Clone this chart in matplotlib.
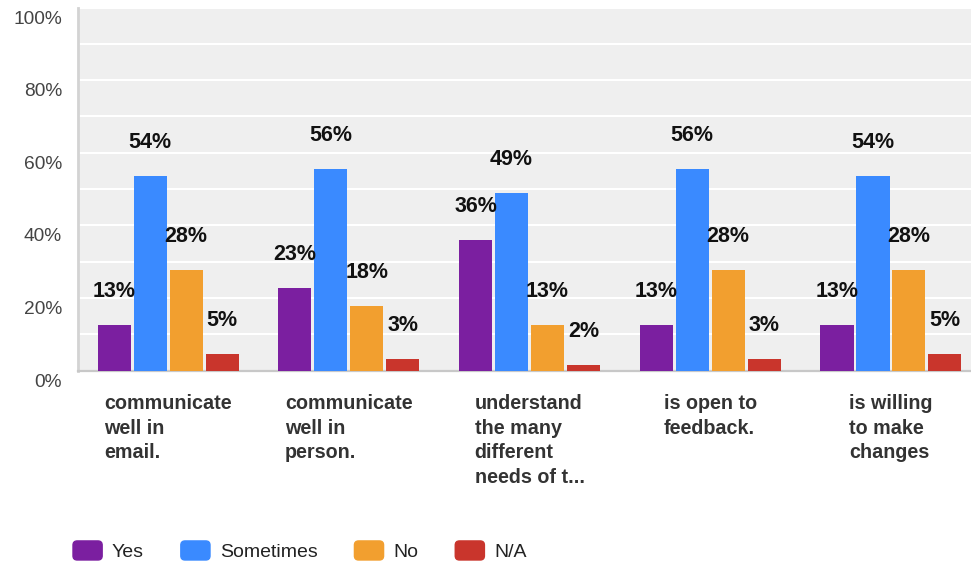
import matplotlib
matplotlib.use("Agg")
import matplotlib.pyplot as plt
import numpy as np
from matplotlib.patches import Patch, FancyBboxPatch
from matplotlib.legend_handler import HandlerPatch
from matplotlib.transforms import ScaledTranslation

plt.rcParams['font.family'] = ['Liberation Sans', 'DejaVu Sans']

categories = ["communicate\nwell in\nemail.",
              "communicate\nwell in\nperson.",
              "understand\nthe many\ndifferent\nneeds of t...",
              "is open to\nfeedback.",
              "is willing\nto make\nchanges"]
series_names = ["Yes", "Sometimes", "No", "N/A"]
yes_vals = [12.7, 22.9, 35.9, 12.7, 12.6]
sometimes_vals = [53.7, 55.6, 48.8, 55.6, 53.6]
no_vals = [27.8, 17.9, 12.7, 27.8, 27.7]
na_vals = [4.7, 3.3, 1.7, 3.3, 4.6]
series_values = [yes_vals, sometimes_vals, no_vals, na_vals]
colors = ['#7b1fa0', '#3a8aff', '#f29f2f', '#c9352c']
yticks_major = [0, 20, 40, 60, 80, 100]
ytick_labels = ["0%", "20%", "40%", "60%", "80%", "100%"]

W, H = 971, 565
fig = plt.figure(figsize=(W / 100, H / 100), dpi=100)
ax = fig.add_axes([78 / W, 1 - 370.7 / H, (W - 78) / W, (370.7 - 7.5) / H])
ax.set_facecolor('#efefef')

x = np.arange(len(categories))
step = 0.199
bw = 0.183
for i, (name, vals, c) in enumerate(zip(series_names, series_values, colors)):
    xs = x + (i - 1.5) * step
    ax.bar(xs, vals, width=bw, color=c, label=name, zorder=3)
    for xi, v in zip(xs, vals):
        ax.annotate(f"{v:.0f}%", (xi, v), xytext=(0, 28), textcoords='offset pixels',
                    ha='center', va='baseline', fontsize=15.5, fontweight='bold',
                    color='#111111', zorder=4)

ax.set_xlim(-0.499, 4.443)
ax.set_ylim(0, 100)
ax.set_yticks(yticks_major)
ax.set_yticklabels(ytick_labels)
ax.set_yticks([10, 30, 50, 70, 90], minor=True)
ax.grid(True, axis='y', which='both', color='white', linewidth=1.5, zorder=1)
ax.set_axisbelow(True)
ax.tick_params(axis='y', which='both', length=0, pad=11.5, labelsize=13.8, labelcolor='#444444')
ax.tick_params(axis='x', length=0, pad=17, labelsize=14.2, labelcolor='#333333')
ax.set_xticks(x)
ax.set_xticklabels(categories, fontweight='bold')
for lab in ax.get_xticklabels():
    lab.set_multialignment('left')
    lab.set_linespacing(1.37)
    lab.set_verticalalignment('top')
offset = ScaledTranslation(0, -9.5 / 100, fig.dpi_scale_trans)
for lab in ax.get_yticklabels():
    lab.set_transform(lab.get_transform() + offset)

for s in ['top', 'right']:
    ax.spines[s].set_visible(False)
ax.spines['left'].set_color('#d3d3d3')
ax.spines['left'].set_linewidth(2)
ax.spines['bottom'].set_color('#c8c8c8')
ax.spines['bottom'].set_linewidth(1.6)


def make_round(legend, orig_handle, xdescent, ydescent, width, height, fontsize):
    return FancyBboxPatch((-xdescent, -ydescent), width, height,
                          boxstyle="round,pad=0,rounding_size=3")


handles = [Patch(facecolor=c, edgecolor=c, label=n) for n, c in zip(series_names, colors)]
fig.legend(handles=handles, loc='center left', bbox_to_anchor=(73 / W, 1 - 551 / H),
           ncol=4, frameon=False, fontsize=14, handlelength=1.5, handleheight=1.13,
           handletextpad=0.5, columnspacing=1.9, borderpad=0, borderaxespad=0,
           labelcolor='#222222',
           handler_map={Patch: HandlerPatch(patch_func=make_round)})

fig.savefig("out.png", dpi=100)
